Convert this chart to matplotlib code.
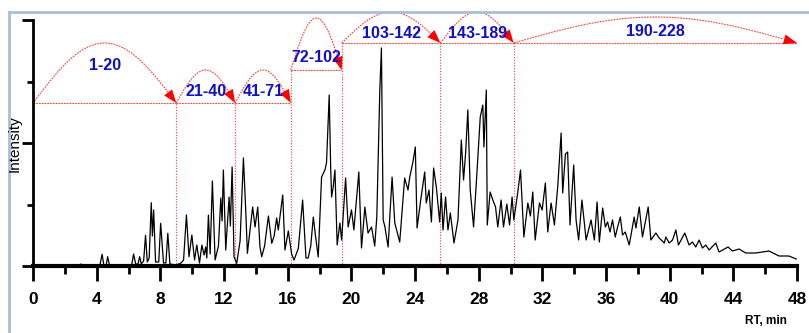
import matplotlib
matplotlib.use("Agg")
import matplotlib.pyplot as plt
from matplotlib.lines import Line2D
from matplotlib.patches import FancyArrowPatch
import numpy as np

# -- chromatogram (RT in min, intensity in arbitrary units) -------------------
rt = [0.0, 2.9, 3.0, 3.1, 4.2, 4.34, 4.45, 4.6, 4.69, 4.8, 6.2, 6.32, 6.45, 6.6,
      6.70, 6.8, 6.95, 7.07, 7.18, 7.3, 7.43, 7.5, 7.58, 7.7, 7.9, 8.02, 8.2,
      8.35, 8.47, 8.6, 9.0, 9.3, 9.46, 9.64, 9.8, 9.98, 10.15, 10.29, 10.46,
      10.61, 10.75, 10.85, 10.92, 11.02, 11.13, 11.27, 11.44, 11.65, 11.8,
      11.88, 11.96, 12.11, 12.32, 12.4, 12.51, 12.63, 12.8, 13.01, 13.22,
      13.37, 13.47, 13.8, 13.95, 14.12, 14.26, 14.37, 14.55, 14.79, 15.0,
      15.15, 15.31, 15.41, 15.69, 15.83, 16.04, 16.25, 16.4, 16.67, 16.94,
      17.15, 17.29, 17.45, 17.61, 17.75, 17.92, 18.13, 18.34, 18.44, 18.61,
      18.7, 18.76, 18.86, 18.97, 19.11, 19.28, 19.39, 19.64, 19.8, 20.01,
      20.16, 20.47, 20.64, 20.85, 21.05, 21.27, 21.47, 21.6, 21.79, 21.89,
      22.0, 22.1, 22.31, 22.56, 22.73, 23.04, 23.35, 23.56, 23.67, 23.87,
      24.02, 24.13, 24.36, 24.61, 24.71, 24.88, 25.03, 25.17, 25.34, 25.55,
      25.65, 25.76, 25.92, 26.07, 26.22, 26.45, 26.7, 26.91, 27.05, 27.18,
      27.32, 27.47, 27.68, 27.89, 28.1, 28.26, 28.33, 28.48, 28.54, 28.72,
      28.89, 29.06, 29.2, 29.41, 29.56, 29.77, 29.94, 30.1, 30.21, 30.46,
      30.63, 30.84, 31.09, 31.25, 31.4, 31.55, 31.82, 31.99, 32.19, 32.34,
      32.55, 32.76, 32.97, 33.18, 33.28, 33.45, 33.59, 33.74, 33.97, 34.12,
      34.28, 34.49, 34.75, 35.06, 35.27, 35.44, 35.58, 35.79, 35.96, 36.1,
      36.25, 36.41, 36.58, 36.73, 36.9, 37.04, 37.21, 37.46, 37.77, 37.88,
      38.09, 38.29, 38.65, 38.82, 39.13, 39.34, 39.66, 39.76, 39.97, 40.18,
      40.39, 40.55, 40.95, 41.22, 41.43, 41.64, 41.85, 42.06, 42.27, 42.48,
      42.9, 43.1, 43.67, 43.94, 44.36, 44.78, 45.4, 46.24, 46.87, 47.49, 47.95]
intensity = [0.5, 0.5, 2, 0.5, 0.5, 11.7, 1, 1, 9.3, 1, 1, 12, 2, 2,
             9.3, 2, 5, 30.7, 4, 8, 63.3, 30, 56, 4, 4, 42.7, 3,
             3, 32.7, 2, 1, 3, 6, 51, 9.3, 31, 6, 21, 3,
             21, 11, 19, 8, 51, 12, 85, 6, 20, 68,
             45, 96, 16, 69, 40, 99, 9, 2.7, 25, 108,
             54, 12.7, 59, 39, 59, 19, 9.3, 20, 50, 22.7,
             30, 48, 36, 71, 16, 35, 12, 6, 17.7, 66,
             8, 8, 20, 49, 30, 9, 89, 96, 103, 171,
             100, 69, 79, 96, 21, 43, 26, 88, 39, 56,
             36, 94, 18, 59, 33, 39, 20, 49, 176, 218,
             46, 40, 19, 89, 43, 24, 88, 76, 89, 104,
             119, 38, 66, 94, 63, 76, 44, 98, 79, 44,
             73, 36, 69, 36, 53, 23, 46, 126, 86, 113,
             156, 76, 39, 93, 149, 161, 119, 176, 41, 74,
             66, 59, 39, 66, 39, 62, 41, 69, 46, 74,
             96, 29, 63, 50, 74, 26, 63, 56, 83, 34,
             63, 41, 80, 133, 73, 112, 114, 41, 101, 46,
             26, 66, 26, 46, 26, 64, 24, 58, 39, 44,
             34, 46, 29, 39, 49, 31, 34, 21, 49, 38,
             59, 29, 59, 26, 33, 28, 23, 29, 23, 26,
             36, 21, 33, 21, 24, 19, 26, 18, 21, 16,
             23, 14, 19, 15, 17, 13, 13, 15, 10, 10, 7]

# -- collected fractions -------------------------------------------------------
fraction_labels = ["1-20", "21-40", "41-71", "72-102", "103-142", "143-189", "190-228"]
fraction_edges = [0.0, 9.0, 12.7, 16.2, 19.4, 25.6, 30.2, 48.0]

# annotation layout (same units as intensity)
base_level = [163, 163, 163, 196, 223, 223, 223]
arc_top = [223, 196, 196, 248, 254, 254, 249]
label_y = [200, 174, 174, 208, 232, 232, 234]

FONT = "Liberation Sans"
RED = "#ff3b3b"

fig = plt.figure(figsize=(8.09, 3.33), dpi=100)
fig.patch.set_facecolor("white")
ax = fig.add_axes([33 / 809, 67 / 333, 764 / 809, 246 / 333])

ax.plot(rt, intensity, color="black", lw=0.9, zorder=3)

ax.set_xlim(0, 48)
ax.set_ylim(0, 246)
ax.set_xticks(np.arange(0, 49, 4))
ax.set_xticks(np.arange(2, 48, 4), minor=True)
ax.set_yticks([0, 123, 246])
ax.set_yticks([61.5, 184.5], minor=True)
ax.set_yticklabels([])
for sp in ("top", "right"):
    ax.spines[sp].set_visible(False)
ax.spines["left"].set_linewidth(2)
ax.spines["bottom"].set_linewidth(3)
ax.tick_params(axis="x", which="major", length=11, width=2, pad=8)
ax.tick_params(axis="x", which="minor", length=6, width=2)
ax.tick_params(axis="y", which="major", length=8, width=2)
ax.tick_params(axis="y", which="minor", length=4, width=2)
for lab in ax.get_xticklabels():
    lab.set_fontfamily(FONT)
    lab.set_fontweight("bold")
    lab.set_fontsize(12.5)

# fraction brackets
for i, name in enumerate(fraction_labels):
    x0, x1 = fraction_edges[i], fraction_edges[i + 1]
    lv, top = base_level[i], arc_top[i]
    ax.plot([x0, x1], [lv, lv], color=RED, lw=0.8, ls=(0, (1.5, 1)),
            clip_on=False, zorder=2)
    t = np.linspace(0, 1, 80)
    xs = x0 + (x1 - x0) * t
    ys = lv + (top - lv) * np.sin(np.pi * t)
    ax.plot(xs[:-4], ys[:-4], color=RED, lw=0.8, ls=(0, (1.5, 1)),
            clip_on=False, zorder=2)
    arr = FancyArrowPatch((xs[-8], ys[-8]), (xs[-1], ys[-1]),
                          arrowstyle="-|>,head_length=0.8,head_width=0.3",
                          mutation_scale=12, color="red", lw=0,
                          shrinkA=0, shrinkB=0, clip_on=False, zorder=4)
    ax.add_patch(arr)
    ax.text((x0 + x1) / 2, label_y[i], name, color="#1010c8",
            family=FONT, fontweight="bold", fontsize=11.5,
            ha="center", va="center", clip_on=False, zorder=5)

# dotted drop lines at the fraction cuts
for i in range(1, len(fraction_edges) - 1):
    h = max(base_level[i - 1], base_level[i])
    ax.plot([fraction_edges[i]] * 2, [0, h], color=RED, lw=0.8,
            ls=(0, (1, 1.5)), zorder=2)

fig.text(15 / 809, 1 - 144 / 333, "Intensity", rotation=90, ha="center",
         va="center", family=FONT, fontsize=11)
fig.text(766 / 809, 1 - 321 / 333, "RT, min", ha="center", va="center",
         family=FONT, fontweight="bold", fontsize=8.5)

# light frame around the panel
fig.add_artist(Line2D([8.5 / 809, 8.5 / 809], [0, 1 - 12 / 333],
                      transform=fig.transFigure, color="#a8bedb", lw=2))
fig.add_artist(Line2D([8.5 / 809, 1], [1 - 12 / 333, 1 - 12 / 333],
                      transform=fig.transFigure, color="#a8bedb", lw=2))

fig.savefig("out.png", dpi=100, facecolor="white")
